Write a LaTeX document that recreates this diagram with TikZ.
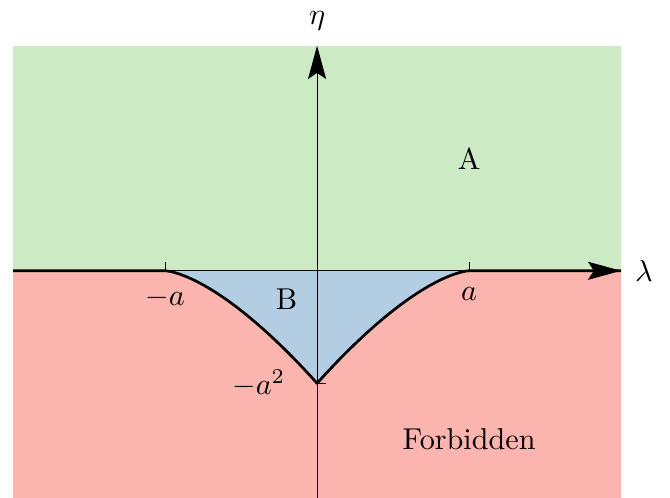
\documentclass[tikz,border=0pt]{standalone}
\usepackage{amsmath,amssymb}
\usepackage{xcolor}
\usetikzlibrary{arrows.meta}

\definecolor{regionA}{HTML}{CCEBC5}
\definecolor{regionB}{HTML}{B3CDE3}
\definecolor{forbidden}{HTML}{FBB4AE}

\begin{document}
\begin{tikzpicture}[x=1.77cm, y=1.31cm,
    axis/.style={line width=0.35pt, -{Stealth[length=11pt, width=6pt, inset=2pt]}},
    boundary/.style={line width=0.9pt, line join=round}]
  \useasboundingbox (-2.086,-2.018) rectangle (2.322,2.407);

  % Regions
  \fill[regionA] (-2,0) rectangle (2,2);
  \fill[forbidden] (-2,-2.018) rectangle (2,0);
  \fill[regionB] (-1,0)
    -- plot[domain=-1:0, samples=60] (\x, {-(1+\x)*sqrt(1+\x)})
    -- plot[domain=0:1, samples=60] (\x, {-(1-\x)*sqrt(1-\x)}) -- cycle;

  % Boundary curve
  \draw[boundary] (-2,0)
    -- plot[domain=-1:0, samples=60] (\x, {-(1+\x)*sqrt(1+\x)})
    -- plot[domain=0:1, samples=60] (\x, {-(1-\x)*sqrt(1-\x)}) -- (2,0);

  % Axes
  \coordinate (lam_w) at (-2,0);
  \coordinate (lam_e) at (2,0);
  \coordinate (eta_s) at (0,-2.018);
  \coordinate (eta_n) at (0,2);
  \draw[axis] (lam_w) -- (lam_e);
  \draw[axis] (eta_s) -- (eta_n);
  \node (lam_lbl) at (2.15,0) {$\lambda$};
  \node (eta_lbl) at (0,2.22) {$\eta$};

  % Ticks
  \draw[line width=0.35pt] (-1,0) -- ++(0,3pt) (1,0) -- ++(0,3pt) (0,-1) -- ++(3pt,0);
  \node[below=2pt] (mina) at (-1,0) {$-a$};
  \node[below=2pt] (pla) at (1,0) {$a$};
  \node[left=7pt] (mina2) at (0,-1) {$-a^2$};

  % Region labels
  \node (lblA) at (1,1) {A};
  \node (lblB) at (-0.2,-0.25) {B};
  \node (lblF) at (1,-1.5) {Forbidden};
\end{tikzpicture}
\end{document}
